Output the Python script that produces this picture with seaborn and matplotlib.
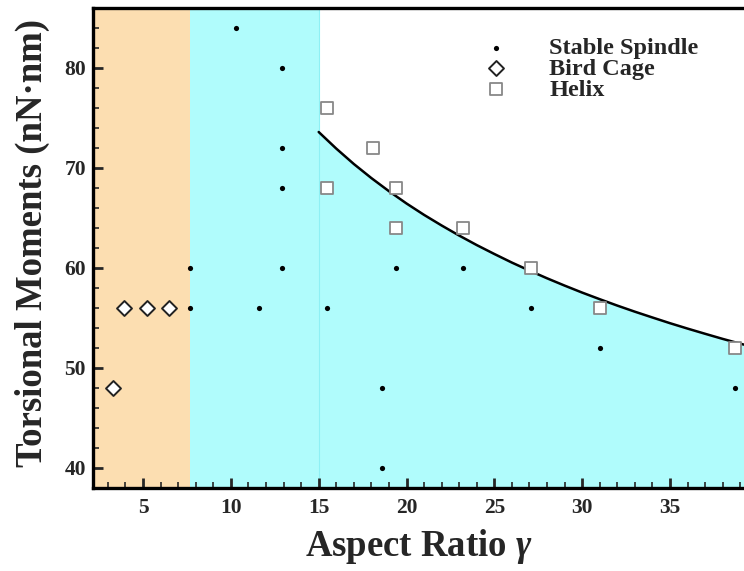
import numpy as np
import pandas as pd
import matplotlib
matplotlib.use("Agg")
import matplotlib.pyplot as plt
import seaborn as sns
from matplotlib.ticker import MultipleLocator

# Stable spindle configurations
spindle_x = [10.3, 12.9, 12.9, 12.9, 12.9, 7.7, 7.7, 11.6, 15.5, 18.6, 18.6, 19.4, 23.2, 27.1, 31.0, 38.7]
spindle_y = [84, 80, 72, 68, 60, 60, 56, 56, 56, 48, 40, 60, 60, 56, 52, 48]

# Bird cage configurations
cage_x = [3.3, 3.9, 5.2, 6.5]
cage_y = [48, 56, 56, 56]

# Helix configurations
helix_x = [15.5, 15.5, 18.1, 19.4, 19.4, 23.2, 27.1, 31.0, 38.7]
helix_y = [76, 68, 72, 68, 64, 64, 60, 56, 52]

# Spindle/helix boundary curve
boundary_x = [15, 16, 17, 18, 19, 20, 21, 22, 23, 24, 25, 26, 27, 28, 29, 30,
              31, 32, 33, 34, 35, 36, 37, 38, 39, 39.3]
boundary_y = [73.60, 71.94, 70.40, 68.99, 67.68, 66.45, 65.31, 64.25, 63.24,
              62.29, 61.40, 60.54, 59.74, 58.97, 58.24, 57.54, 56.88, 56.24,
              55.63, 55.05, 54.48, 53.94, 53.42, 52.91, 52.43, 52.30]

# Regime limits on the aspect ratio axis
cage_limit = 7.7
helix_limit = 15.0

sns.set_style("ticks")
plt.rcParams['font.family'] = ['Liberation Serif', 'DejaVu Serif']
plt.rcParams['font.weight'] = 'bold'
plt.rcParams['mathtext.fontset'] = 'custom'
plt.rcParams['mathtext.it'] = 'Liberation Serif:italic:bold'
plt.rcParams['mathtext.rm'] = 'Liberation Serif:bold'

fig = plt.figure(figsize=(7.44, 5.71), dpi=100)
ax = fig.add_axes([0.125, 0.1454, 0.877, 0.8406])

xmin, xmax = 2.15, 39.3
ymin, ymax = 38, 86

orange = '#FCDEB1'
cyan = '#B0FCFC'

ax.axvspan(xmin, cage_limit, color=orange, lw=0, zorder=0)
ax.axvspan(cage_limit, helix_limit, color=cyan, lw=0, zorder=0)
bx = np.array(boundary_x)
by = np.array(boundary_y)
ax.fill_between(bx, ymin, by, color=cyan, lw=0, zorder=0)
ax.axvline(helix_limit, color='#8EF0F4', lw=0.8, zorder=0.5)

sns.lineplot(x=bx, y=by, color='black', lw=1.8, ax=ax, zorder=2, sort=False)

df_s = pd.DataFrame({'x': spindle_x, 'y': spindle_y})
df_c = pd.DataFrame({'x': cage_x, 'y': cage_y})
df_h = pd.DataFrame({'x': helix_x, 'y': helix_y})

sns.scatterplot(data=df_s, x='x', y='y', marker='o', s=14, color='black',
                edgecolor='black', linewidth=0, ax=ax, zorder=3, label='Stable Spindle')
sns.scatterplot(data=df_c, x='x', y='y', marker='D', s=58, facecolor='white',
                edgecolor='#222222', linewidth=1.4, ax=ax, zorder=3, label='Bird Cage')
sns.scatterplot(data=df_h, x='x', y='y', marker='s', s=64, facecolor='white',
                edgecolor='#888888', linewidth=1.3, ax=ax, zorder=3, label='Helix')

ax.set_xlim(xmin, xmax)
ax.set_ylim(ymin, ymax)

ax.xaxis.set_major_locator(MultipleLocator(5))
ax.xaxis.set_minor_locator(MultipleLocator(1))
ax.yaxis.set_major_locator(MultipleLocator(10))
ax.yaxis.set_minor_locator(MultipleLocator(2))
ax.tick_params(which='major', direction='in', length=7, width=2, labelsize=15.5)
ax.tick_params(axis='x', which='major', pad=7)
ax.tick_params(axis='y', which='major', pad=5)
ax.tick_params(which='minor', direction='in', length=4, width=1.2)
ax.tick_params(top=False, right=False)
for lbl in ax.get_xticklabels() + ax.get_yticklabels():
    lbl.set_fontweight('bold')

for side in ['left', 'bottom', 'top']:
    ax.spines[side].set_linewidth(2.4)
    ax.spines[side].set_color('black')
ax.spines['right'].set_visible(False)

ax.set_xlabel(r'Aspect Ratio $\gamma$', fontsize=26.5, fontweight='bold', labelpad=7)
ax.set_ylabel('Torsional Moments (nN·nm)', fontsize=26.5, fontweight='bold', labelpad=10)
ax.yaxis.label.set_y(0.511)

leg = ax.legend(loc='upper left', bbox_to_anchor=(0.5705, 0.965), frameon=False,
                fontsize=17.5, handletextpad=1.45, labelspacing=-0.05, borderpad=0,
                handlelength=1.5, markerscale=1.0)
for t in leg.get_texts():
    t.set_fontweight('bold')

fig.savefig('out.png', dpi=100)
